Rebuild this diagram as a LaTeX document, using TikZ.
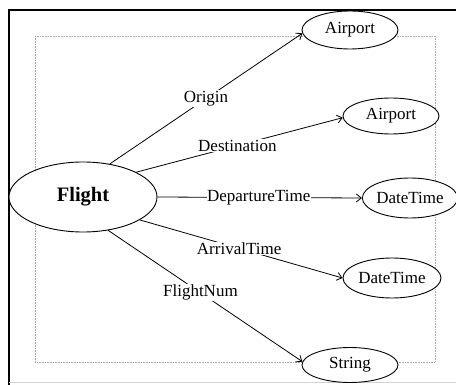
\documentclass[tikz,border=0pt]{standalone}
\usepackage{fontspec}
\setmainfont{Liberation Serif}
\usetikzlibrary{shapes.geometric,arrows.meta}
\begin{document}
\begin{tikzpicture}[x=1pt,y=-1pt,
  cls/.style={draw,ellipse,fill=white,inner sep=0pt,line width=0.9pt,
    font=\fontsize{17}{20}\selectfont},
  rel/.style={draw,line width=0.8pt,-{Straight Barb[length=5pt,width=8pt]}},
  lbl/.style={fill=white,inner sep=0.8pt,font=\fontsize{17}{20}\selectfont}]
\useasboundingbox (0,0) rectangle (456,385);
% outer frame and inner dotted frame
\draw[line width=1.3pt] (9,385) -- (9,10) -- (456,10);
\draw[gray!35,line width=1pt] (9,383) -- (456,383);
\draw[gray!70,densely dotted,line width=0.6pt] (35,36) rectangle (435,362);
% classes
\node[cls,minimum width=148pt,minimum height=70pt,
  font=\fontsize{20.5}{24}\selectfont\bfseries] (flight) at (83,197) {Flight};
\node[cls,minimum width=96pt,minimum height=38pt] (ap1) at (350,30) {Airport};
\node[cls,minimum width=96pt,minimum height=36pt] (ap2) at (391,116) {Airport};
\node[cls,minimum width=90pt,minimum height=40pt] (dt1) at (410,198) {DateTime};
\node[cls,minimum width=98pt,minimum height=40pt] (dt2) at (392,278) {DateTime};
\node[cls,minimum width=96pt,minimum height=35pt] (str) at (350,365) {String};
% properties
\draw[rel] (flight.51) -- node[lbl,pos=0.5] {Origin} (ap1.184);
\draw[rel] (flight.25) -- node[lbl,pos=0.49] {Destination} (ap2.182);
\draw[rel] (flight.east) -- node[lbl,pos=0.495,inner sep=0.3pt] {DepartureTime} (dt1.west);
\draw[rel] (flight.-22) -- node[lbl,pos=0.49] {ArrivalTime} (dt2.west);
\draw[rel] (flight.-53) -- node[lbl,pos=0.475] {FlightNum} (str.176);
\end{tikzpicture}
\end{document}
